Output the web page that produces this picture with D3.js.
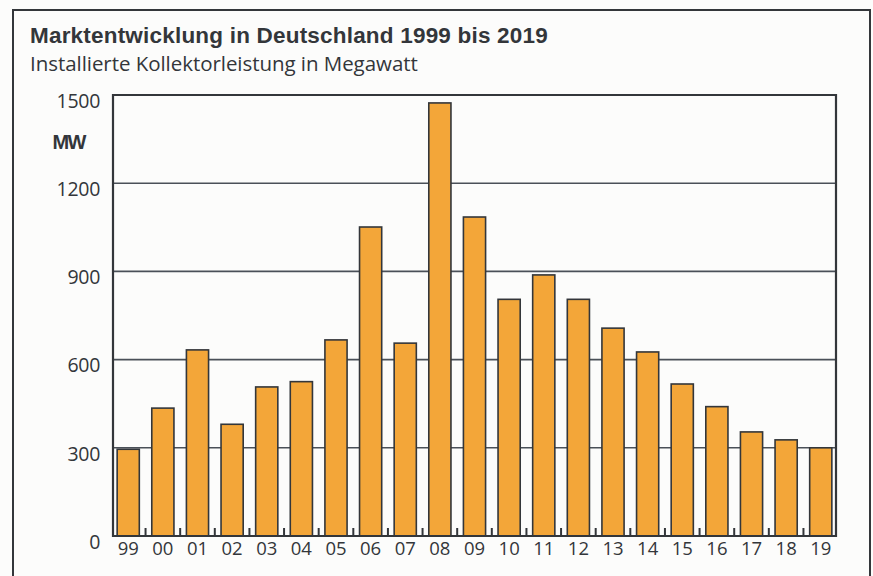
<!DOCTYPE html>
<html>
<head>
<meta charset="utf-8">
<script src="https://cdn.jsdelivr.net/npm/d3@7"></script>
<style>
  html, body { margin: 0; padding: 0; background: #fcfcfb; }
  svg { display: block; }
</style>
</head>
<body>
<svg id="chart" width="873" height="576"></svg>
<script>
// Solar thermal collector market in Germany, 1999–2019 (installed capacity, MW)
const years = ["99","00","01","02","03","04","05","06","07","08","09","10","11","12","13","14","15","16","17","18","19"];
const capacityMW = [295, 435, 633, 380, 507, 525, 667, 1051, 656, 1473, 1085, 805, 888, 805, 707, 626, 517, 440, 354, 327, 300];
const yTicks = [0, 300, 600, 900, 1200, 1500];

const titleText = "Marktentwicklung in Deutschland 1999 bis 2019";
const subtitleText = "Installierte Kollektorleistung in Megawatt";
const unitText = "MW";

const svg = d3.select("#chart");
const ink = "#33363a";
const plot = { left: 113, right: 836, top: 95, bottom: 536 };

// outer frame
svg.append("path")
  .attr("d", `M13,590 L13,10 L870,10 L870,590`)
  .attr("fill", "none").attr("stroke", ink).attr("stroke-width", 2);

// headings
svg.append("text")
  .attr("x", 30).attr("y", 43)
  .attr("font-family", "Liberation Sans, Arial, sans-serif")
  .attr("font-weight", "bold").attr("font-size", 22.5).attr("letter-spacing", 0.2)
  .attr("fill", ink)
  .text(titleText);
svg.append("text")
  .attr("x", 30).attr("y", 71)
  .attr("font-family", "Open Sans, sans-serif")
  .attr("font-size", 20.5).attr("letter-spacing", -0.05)
  .attr("fill", ink)
  .text(subtitleText);

const x = d3.scaleBand()
  .domain(years)
  .range([plot.left, plot.right])
  .paddingInner(0.36)
  .paddingOuter(0.12);

const y = d3.scaleLinear()
  .domain([0, 1500])
  .range([plot.bottom, plot.top]);

// horizontal gridlines (behind bars)
svg.append("g")
  .selectAll("line")
  .data(yTicks.filter(d => d > 0 && d < 1500))
  .join("line")
  .attr("x1", plot.left).attr("x2", plot.right)
  .attr("y1", d => y(d)).attr("y2", d => y(d))
  .attr("stroke", "#4a5058").attr("stroke-width", 1.6);

// bars
svg.append("g")
  .selectAll("rect")
  .data(years.map((yr, i) => ({ yr, v: capacityMW[i] })))
  .join("rect")
  .attr("x", d => x(d.yr))
  .attr("y", d => y(d.v))
  .attr("width", x.bandwidth())
  .attr("height", d => y(0) - y(d.v))
  .attr("fill", "#f3a639")
  .attr("stroke", ink).attr("stroke-width", 1.6);

// plot frame: top, left, right and baseline
svg.append("path")
  .attr("d", `M${plot.left},${plot.bottom} L${plot.left},${plot.top} L${plot.right},${plot.top} L${plot.right},${plot.bottom} Z`)
  .attr("fill", "none").attr("stroke", ink).attr("stroke-width", 2.2);

// small ticks between the bars at the baseline
const step = x.step();
svg.append("g")
  .selectAll("line")
  .data(years.slice(1))
  .join("line")
  .attr("x1", d => x(d) - (step - x.bandwidth()) / 2)
  .attr("x2", d => x(d) - (step - x.bandwidth()) / 2)
  .attr("y1", plot.bottom).attr("y2", plot.bottom - 8)
  .attr("stroke", ink).attr("stroke-width", 2);

// y axis labels
const yAxis = d3.axisLeft(y).tickValues(yTicks).tickFormat(d3.format("d")).tickSize(0).tickPadding(0);
const gy = svg.append("g").attr("transform", `translate(100,6)`).call(yAxis);
gy.select(".domain").remove();
gy.selectAll("text")
  .attr("font-family", "Open Sans, sans-serif")
  .attr("font-size", 19.5).attr("letter-spacing", -0.3)
  .attr("fill", ink);

// x axis labels
const xAxis = d3.axisBottom(x).tickSize(0).tickPadding(0);
const gx = svg.append("g").attr("transform", `translate(0,${plot.bottom + 6})`).call(xAxis);
gx.select(".domain").remove();
gx.selectAll("text")
  .attr("font-family", "Open Sans, sans-serif")
  .attr("font-size", 18.5)
  .attr("fill", ink);

// unit label
svg.append("text")
  .attr("x", 85).attr("y", 149)
  .attr("text-anchor", "end")
  .attr("font-family", "Liberation Sans, Arial, sans-serif")
  .attr("font-weight", "bold").attr("font-size", 20).attr("letter-spacing", -1.5)
  .attr("fill", ink)
  .text(unitText);
</script>
</body>
</html>
